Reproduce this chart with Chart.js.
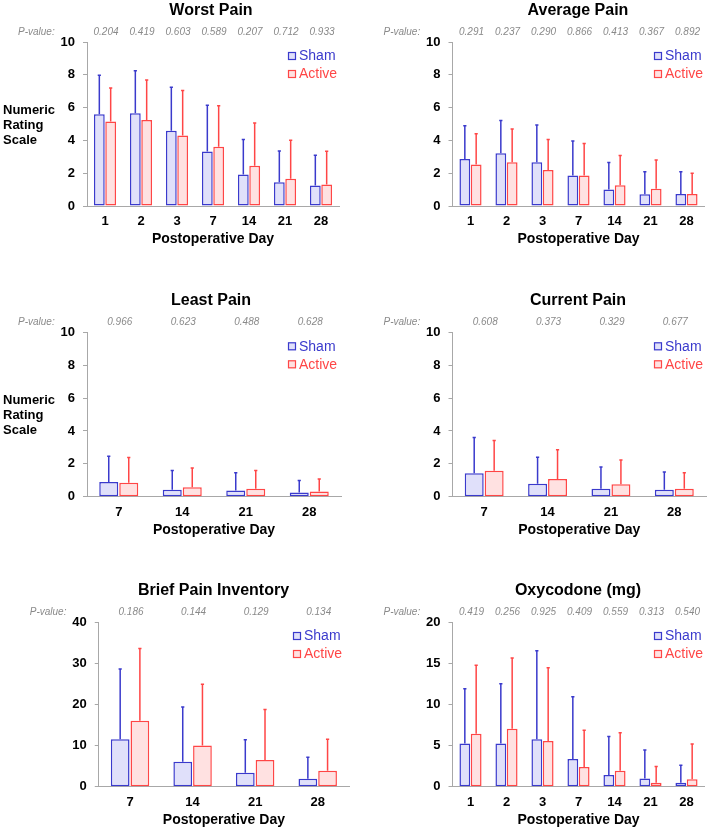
<!DOCTYPE html>
<html>
<head>
<meta charset="utf-8">
<script src="https://cdn.jsdelivr.net/npm/chart.js@4.4.1/dist/chart.umd.min.js"></script>
<style>
  html, body { margin: 0; padding: 0; background: #fff; }
  #page { position: relative; width: 709px; height: 830px; overflow: hidden; }
  #page canvas { position: absolute; }
</style>
</head>
<body>
<div id="page"></div>
<script>
// categories
const daysAll = ['1', '2', '3', '7', '14', '21', '28'];
const daysLate = ['7', '14', '21', '28'];

// Worst Pain
const worstSham = [5.6, 5.66, 4.59, 3.33, 1.92, 1.45, 1.25];
const worstShamSd = [2.4, 2.62, 2.68, 2.85, 2.16, 1.94, 1.88];
const worstActive = [5.15, 5.25, 4.3, 3.62, 2.46, 1.66, 1.31];
const worstActiveSd = [2.08, 2.47, 2.77, 2.52, 2.63, 2.38, 2.06];
const worstP = ['0.204', '0.419', '0.603', '0.589', '0.207', '0.712', '0.933'];

// Average Pain
const avgSham = [2.87, 3.21, 2.67, 1.86, 1.01, 0.71, 0.73];
const avgShamSd = [2.06, 2.04, 2.3, 2.14, 1.68, 1.41, 1.39];
const avgActive = [2.53, 2.67, 2.2, 1.86, 1.27, 1.05, 0.73];
const avgActiveSd = [1.91, 2.06, 1.88, 1.98, 1.84, 1.78, 1.29];
const avgP = ['0.291', '0.237', '0.290', '0.866', '0.413', '0.367', '0.892'];

// Least Pain
const leastSham = [0.89, 0.43, 0.37, 0.26];
const leastShamSd = [1.6, 1.19, 1.11, 0.75];
const leastActive = [0.85, 0.57, 0.49, 0.32];
const leastActiveSd = [1.56, 1.21, 1.13, 0.78];
const leastP = ['0.966', '0.623', '0.488', '0.628'];

// Current Pain
const currentSham = [1.42, 0.79, 0.49, 0.43];
const currentShamSd = [2.21, 1.64, 1.34, 1.11];
const currentActive = [1.58, 1.08, 0.75, 0.49];
const currentActiveSd = [1.87, 1.8, 1.52, 0.99];
const currentP = ['0.608', '0.373', '0.329', '0.677'];

// Brief Pain Inventory
const bpiSham = [11.5, 6.07, 3.4, 1.94];
const bpiShamSd = [17.2, 13.43, 8.1, 5.35];
const bpiActive = [16.0, 10.0, 6.48, 3.89];
const bpiActiveSd = [17.7, 15.0, 12.42, 7.77];
const bpiP = ['0.186', '0.144', '0.129', '0.134'];

// Oxycodone (mg)
const oxySham = [5.26, 5.26, 5.75, 3.36, 1.42, 1.01, 0.49];
const oxyShamSd = [6.68, 7.29, 10.81, 7.61, 4.73, 3.52, 2.18];
const oxyActive = [6.44, 7.04, 5.55, 2.39, 1.94, 0.49, 0.89];
const oxyActiveSd = [8.38, 8.66, 8.94, 4.53, 4.66, 2.02, 4.37];
const oxyP = ['0.419', '0.256', '0.925', '0.409', '0.559', '0.313', '0.540'];

const FONT = '"Liberation Sans", Arial, Helvetica, sans-serif';
const SHAM_LINE = '#3a3acc';
const SHAM_FILL = '#e0e0fa';
const ACT_LINE = '#ff4646';
const ACT_FILL = '#ffe1e1';
const AXIS = '#a8a8a8';

// panel layout: canvas box and the wanted plot area inside it [left, top, right, bottom]
const panels = [
    { title: 'Worst Pain', days: daysAll, sham: worstSham, shamSd: worstShamSd, active: worstActive, activeSd: worstActiveSd,
      p: worstP, max: 10, step: 2, yLabel: true,
      box: [0, 0, 354, 280], area: [87, 42, 339, 206], titleX: 211, legendX: 288 },
    { title: 'Average Pain', days: daysAll, sham: avgSham, shamSd: avgShamSd, active: avgActive, activeSd: avgActiveSd,
      p: avgP, max: 10, step: 2, yLabel: false,
      box: [354, 0, 355, 280], area: [98.5, 42, 350.5, 206], titleX: 224, legendX: 300 },
    { title: 'Least Pain', days: daysLate, sham: leastSham, shamSd: leastShamSd, active: leastActive, activeSd: leastActiveSd,
      p: leastP, max: 10, step: 2, yLabel: true,
      box: [0, 280, 354, 280], area: [87, 52.3, 341, 216.7], titleX: 211, legendX: 288 },
    { title: 'Current Pain', days: daysLate, sham: currentSham, shamSd: currentShamSd, active: currentActive, activeSd: currentActiveSd,
      p: currentP, max: 10, step: 2, yLabel: false,
      box: [354, 280, 355, 280], area: [98.5, 52.3, 352, 216.7], titleX: 224, legendX: 300 },
    { title: 'Brief Pain Inventory', days: daysLate, sham: bpiSham, shamSd: bpiShamSd, active: bpiActive, activeSd: bpiActiveSd,
      p: bpiP, max: 40, step: 10, yLabel: false,
      box: [0, 560, 354, 270], area: [98.75, 62, 349, 226.7], titleX: 213.5, legendX: 293 },
    { title: 'Oxycodone (mg)', days: daysAll, sham: oxySham, shamSd: oxyShamSd, active: oxyActive, activeSd: oxyActiveSd,
      p: oxyP, max: 20, step: 5, yLabel: false,
      box: [354, 560, 355, 270], area: [98.5, 62, 350.5, 226.7], titleX: 224, legendX: 300 }
];

const X_HEIGHT = 42;

function makeDecor(panel) {
    return {
        id: 'decor',
        afterDatasetsDraw(chart) {
            // upward-only error bars
            const ctx = chart.ctx;
            const ys = chart.scales.y;
            ctx.save();
            chart.data.datasets.forEach((ds, i) => {
                const meta = chart.getDatasetMeta(i);
                ctx.strokeStyle = ds.borderColor;
                ctx.lineWidth = 1.5;
                meta.data.forEach((bar, j) => {
                    const top = ys.getPixelForValue(ds.data[j] + ds.sd[j]);
                    ctx.beginPath();
                    ctx.moveTo(bar.x, bar.y);
                    ctx.lineTo(bar.x, top);
                    ctx.moveTo(bar.x - 1.6, top + 0.5);
                    ctx.lineTo(bar.x + 1.6, top + 0.5);
                    ctx.stroke();
                });
            });
            ctx.restore();
        },
        afterDraw(chart) {
            const ctx = chart.ctx;
            const area = chart.chartArea;
            const xs = chart.scales.x;
            ctx.save();

            // title
            ctx.fillStyle = '#000';
            ctx.font = 'bold 16px ' + FONT;
            ctx.textAlign = 'center';
            ctx.textBaseline = 'alphabetic';
            ctx.fillText(panel.title, panel.titleX, area.top - 27);

            // p-values
            ctx.fillStyle = '#8a8a8a';
            ctx.font = 'italic 10px ' + FONT;
            ctx.textAlign = 'left';
            ctx.fillText('P-value:', area.left - 69, area.top - 7);
            ctx.textAlign = 'center';
            panel.p.forEach((v, i) => {
                ctx.fillText(v, xs.getPixelForValue(i) + 1, area.top - 7);
            });

            // legend
            ctx.textAlign = 'left';
            ctx.textBaseline = 'middle';
            ctx.font = '14px ' + FONT;
            chart.data.datasets.forEach((ds, i) => {
                const cy = area.top + 14 + i * 18;
                const lx = panel.legendX;
                ctx.fillStyle = ds.backgroundColor;
                ctx.fillRect(lx, cy - 4, 8, 8);
                ctx.strokeStyle = ds.borderColor;
                ctx.lineWidth = 1.2;
                ctx.strokeRect(lx + 0.5, cy - 3.5, 7, 7);
                ctx.fillStyle = ds.borderColor;
                ctx.fillText(ds.label, lx + 11, cy + 0.5);
            });

            // side label
            if (panel.yLabel) {
                ctx.fillStyle = '#000';
                ctx.font = 'bold 13px ' + FONT;
                ctx.textBaseline = 'alphabetic';
                ['Numeric', 'Rating', 'Scale'].forEach((t, i) => {
                    ctx.fillText(t, 3, area.top + 72 + i * 15);
                });
            }
            ctx.restore();
        }
    };
}

const page = document.getElementById('page');

panels.forEach(panel => {
    const [bx, by, bw, bh] = panel.box;
    const [al, at, ar, ab] = panel.area;
    const canvas = document.createElement('canvas');
    canvas.width = bw;
    canvas.height = bh;
    canvas.style.left = bx + 'px';
    canvas.style.top = by + 'px';
    canvas.style.width = bw + 'px';
    canvas.style.height = bh + 'px';
    page.appendChild(canvas);

    new Chart(canvas, {
        type: 'bar',
        data: {
            labels: panel.days,
            datasets: [
                {
                    label: 'Sham',
                    data: panel.sham,
                    sd: panel.shamSd,
                    backgroundColor: SHAM_FILL,
                    borderColor: SHAM_LINE,
                    borderWidth: 1.5,
                    borderSkipped: false,
                    categoryPercentage: 0.63,
                    barPercentage: 0.95
                },
                {
                    label: 'Active',
                    data: panel.active,
                    sd: panel.activeSd,
                    backgroundColor: ACT_FILL,
                    borderColor: ACT_LINE,
                    borderWidth: 1.5,
                    borderSkipped: false,
                    categoryPercentage: 0.63,
                    barPercentage: 0.95
                }
            ]
        },
        options: {
            responsive: false,
            animation: false,
            layout: {
                padding: { left: 0, top: at, right: bw - ar, bottom: bh - ab - X_HEIGHT }
            },
            plugins: {
                legend: { display: false },
                title: { display: false },
                tooltip: { enabled: false }
            },
            scales: {
                x: {
                    grid: { display: false, drawTicks: false },
                    border: { display: true, color: AXIS, width: 1 },
                    ticks: {
                        color: '#000',
                        font: { family: FONT, size: 13, weight: 'bold' },
                        padding: 8,
                        maxRotation: 0,
                        autoSkip: false
                    },
                    title: {
                        display: true,
                        text: 'Postoperative Day',
                        color: '#000',
                        font: { family: FONT, size: 14, weight: 'bold' },
                        padding: 0
                    },
                    afterFit: (s) => { s.height = X_HEIGHT; }
                },
                y: {
                    min: 0,
                    max: panel.max,
                    grid: { drawOnChartArea: false, drawTicks: true, tickLength: 4, color: AXIS },
                    border: { display: true, color: AXIS, width: 1 },
                    ticks: {
                        stepSize: panel.step,
                        color: '#000',
                        font: { family: FONT, size: 13, weight: 'bold' },
                        padding: 8
                    },
                    afterFit: (s) => { s.width = al; }
                }
            }
        },
        plugins: [makeDecor(panel)]
    });
});
</script>
</body>
</html>
